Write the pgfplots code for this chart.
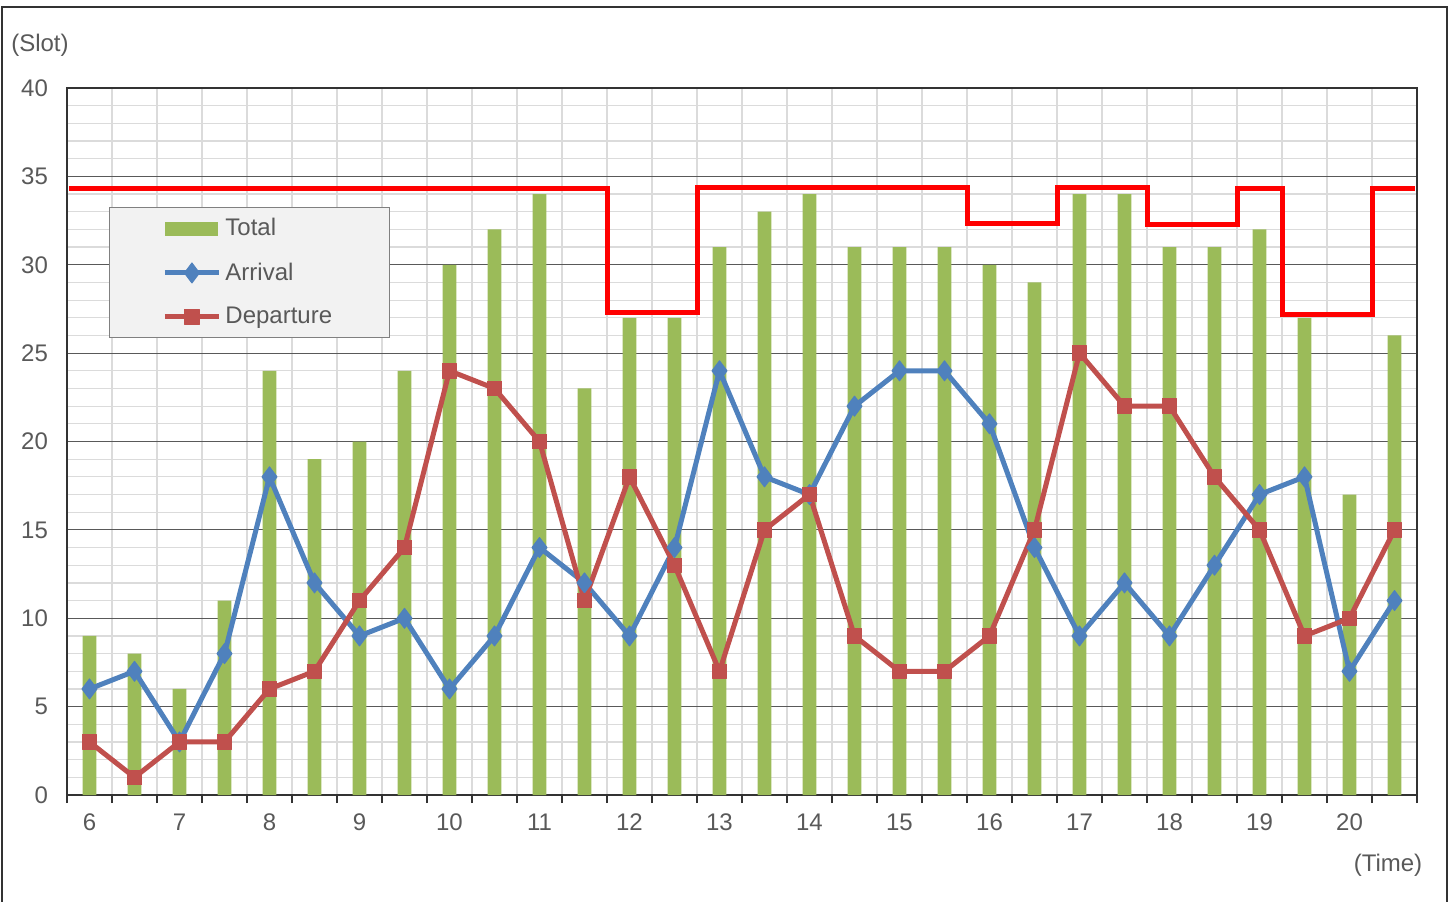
\documentclass[border=0pt]{standalone}
\usepackage{fontspec}
\setmainfont{Liberation Sans}
\usepackage{pgfplots}
\pgfplotsset{compat=1.18}

\definecolor{barGreen}{HTML}{9BBB59}
\definecolor{arrBlue}{HTML}{4F81BD}
\definecolor{depRed}{HTML}{C0504D}
\definecolor{txtGray}{HTML}{595959}
\definecolor{legFill}{HTML}{F2F2F2}

\begin{document}
\begin{tikzpicture}
\path[use as bounding box] (-33.5pt,-53pt) rectangle (693pt,397.5pt);
\draw[black!80, line width=0.7pt] (-32.5pt,-60pt) -- (-32.5pt,394pt) -- (690pt,394pt) -- (690pt,-60pt);

\begin{axis}[
    at={(0,0)}, anchor=south west,
    width=675pt, height=353.5pt, scale only axis,
    xmin=-0.5, xmax=29.5,
    ymin=0, ymax=40,
    xtick={0,2,...,28},
    xticklabels={6,7,8,9,10,11,12,13,14,15,16,17,18,19,20},
    minor xtick={-0.5,0.5,...,29.5},
    ytick={0,5,...,40},
    minor ytick={1,2,3,4,6,7,8,9,11,12,13,14,16,17,18,19,21,22,23,24,26,27,28,29,31,32,33,34,36,37,38,39},
    xminorgrids=true, ymajorgrids=true, yminorgrids=true,
    major grid style={draw=black!65, line width=0.6pt},
    minor grid style={draw=black!14, line width=0.6pt},
    axis line style={draw=black!80, line width=0.6pt},
    tick pos=left,
    tick align=outside,
    major tick length=0pt,
    minor tick length=4pt,
    minor x tick style={draw=black!80, line width=0.6pt},
    minor y tick style={draw=none},
    ytick style={draw=none},
    xtick style={draw=none},
    tick label style={font=\fontsize{12}{14}\selectfont, text=txtGray},
    /pgf/number format/assume math mode=true,
    xticklabel style={yshift=-6pt},
    yticklabel style={xshift=-6pt},
    ylabel={(Slot)},
    ylabel style={at={(axis description cs:-0.02,1.061)}, rotate=-90, anchor=center,
                  font=\fontsize{12}{14}\selectfont, text=txtGray},
    xlabel={(Time)},
    xlabel style={at={(axis description cs:0.9785,-0.099)}, anchor=center,
                  font=\fontsize{12}{14}\selectfont, text=txtGray},
    legend style={at={(0.031,0.832)}, anchor=north west,
                  fill=legFill, draw=black!50, line width=0.6pt,
                  font=\fontsize{12}{14}\selectfont, text=txtGray,
                  inner xsep=26.5pt, inner ysep=3.5pt, row sep=8pt},
    legend cell align=left,
    legend image code/.code={
        \draw[mark repeat=2,mark phase=2] plot coordinates {(0pt,0pt) (13.5pt,0pt) (27pt,0pt)};
    },
]

% Total
\addplot[ybar, bar width=0.31, fill=barGreen, draw=none,
    legend image code/.code={\fill[barGreen] (0pt,-3.5pt) rectangle (26.5pt,3.5pt);}]
coordinates {
    (0,9) (1,8) (2,6) (3,11) (4,24) (5,19) (6,20) (7,24) (8,30) (9,32)
    (10,34) (11,23) (12,27) (13,27) (14,31) (15,33) (16,34) (17,31) (18,31) (19,31)
    (20,30) (21,29) (22,34) (23,34) (24,31) (25,31) (26,32) (27,27) (28,17) (29,26)
};
\addlegendentry{Total}

% capacity
\addplot[forget plot, red, line width=2.5pt, line join=miter, mark=none] coordinates {
    (-0.45,34.3) (11.5,34.3) (11.5,27.3) (13.5,27.3) (13.5,34.35) (19.5,34.35)
    (19.5,32.35) (21.5,32.35) (21.5,34.35) (23.5,34.35) (23.5,32.3) (25.5,32.3)
    (25.5,34.3) (26.5,34.3) (26.5,27.2) (28.5,27.2) (28.5,34.3) (29.45,34.3)
};

% Arrival
\addplot[arrBlue, line width=2.5pt, line join=round, mark=diamond*, mark size=5pt,
    mark options={solid, fill=arrBlue, line width=0.5pt}] coordinates {
    (0,6) (1,7) (2,3) (3,8) (4,18) (5,12) (6,9) (7,10) (8,6) (9,9)
    (10,14) (11,12) (12,9) (13,14) (14,24) (15,18) (16,17) (17,22) (18,24) (19,24)
    (20,21) (21,14) (22,9) (23,12) (24,9) (25,13) (26,17) (27,18) (28,7) (29,11)
};
\addlegendentry{Arrival}

% Departure
\addplot[depRed, line width=2.5pt, line join=round, mark=square*, mark size=3.6pt,
    mark options={solid, fill=depRed, line width=0.5pt}] coordinates {
    (0,3) (1,1) (2,3) (3,3) (4,6) (5,7) (6,11) (7,14) (8,24) (9,23)
    (10,20) (11,11) (12,18) (13,13) (14,7) (15,15) (16,17) (17,9) (18,7) (19,7)
    (20,9) (21,15) (22,25) (23,22) (24,22) (25,18) (26,15) (27,9) (28,10) (29,15)
};
\addlegendentry{Departure}

\end{axis}
\end{tikzpicture}
\end{document}
